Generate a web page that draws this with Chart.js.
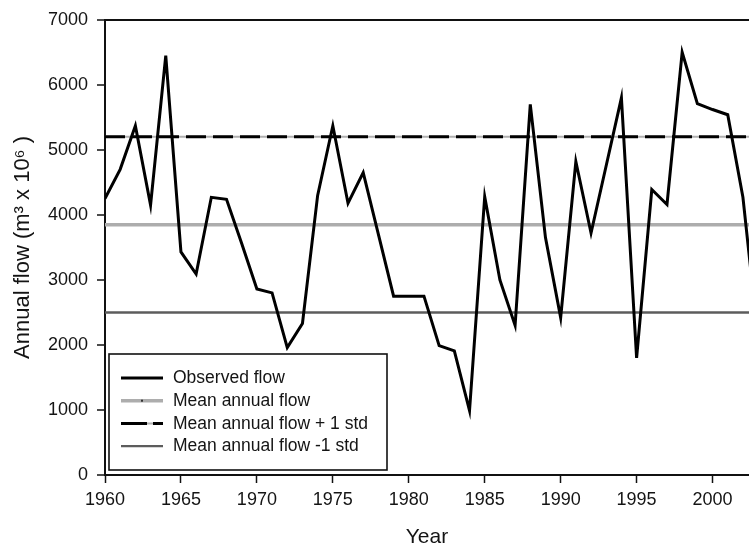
<!DOCTYPE html>
<html>
<head>
<meta charset="utf-8">
<title>Annual flow</title>
<script src="https://cdn.jsdelivr.net/npm/chart.js@4.4.1/dist/chart.umd.min.js"></script>
<style>
  html, body { margin: 0; padding: 0; background: #fff; }
  #wrap { width: 749px; height: 548px; }
</style>
</head>
<body>
<div id="wrap"><canvas id="flow-chart" width="749" height="548"></canvas></div>
<script>
// Annual series, 1960-2003
const years = [1960, 1961, 1962, 1963, 1964, 1965, 1966, 1967, 1968, 1969,
               1970, 1971, 1972, 1973, 1974, 1975, 1976, 1977, 1978, 1979,
               1980, 1981, 1982, 1983, 1984, 1985, 1986, 1987, 1988, 1989,
               1990, 1991, 1992, 1993, 1994, 1995, 1996, 1997, 1998, 1999,
               2000, 2001, 2002, 2003];
const observedFlow = [4250, 4700, 5370, 4150, 6450, 3430, 3090, 4270, 4240, 3560,
                      2860, 2800, 1960, 2330, 4300, 5370, 4180, 4650, 3700, 2750,
                      2750, 2750, 1990, 1910, 990, 4280, 3000, 2300, 5700, 3650,
                      2420, 4820, 3720, 4760, 5800, 1800, 4390, 4160, 6500, 5710,
                      5620, 5540, 4270, 2100];

// mean and +/- one standard deviation
const meanFlow = 3850;
const upperFlow = 5200;
const lowerFlow = 2500;

const xTicks = [1960, 1965, 1970, 1975, 1980, 1985, 1990, 1995, 2000];
const yTicks = [0, 1000, 2000, 3000, 4000, 5000, 6000, 7000];

const legendLabels = ['Observed flow', 'Mean annual flow', 'Mean annual flow + 1 std', 'Mean annual flow -1 std'];

const FONT = '"Liberation Sans", Arial, sans-serif';
const INK = '#141414';

function series(values) {
  return years.map(function(y, i) { return { x: y, y: values[i] }; });
}
function level(v) {
  return years.map(function(y) { return { x: y, y: v }; });
}

// legend drawn inside the plot, lower left corner
const legendBox = {
  id: 'legendBox',
  afterDraw: function(chart) {
    const ctx = chart.ctx;
    const area = chart.chartArea;
    const x = area.left + 4, y = area.bottom - 121, w = 278, h = 116;
    ctx.save();
    ctx.fillStyle = '#fff';
    ctx.fillRect(x, y, w, h);
    ctx.lineWidth = 1.6;
    ctx.strokeStyle = '#111';
    ctx.strokeRect(x, y, w, h);
    ctx.font = '17.5px ' + FONT;
    ctx.textBaseline = 'middle';
    legendLabels.forEach(function(text, i) {
      const ds = chart.data.datasets[i];
      const cy = y + 24 + i * 22.7;
      const x0 = x + 12, x1 = x + 54;
      if (i === 2) {
        // grey showing through the gaps of the dashes
        const under = chart.data.datasets[4];
        ctx.setLineDash([]);
        ctx.strokeStyle = under.borderColor;
        ctx.lineWidth = under.borderWidth;
        ctx.beginPath(); ctx.moveTo(x0, cy); ctx.lineTo(x1, cy); ctx.stroke();
      }
      ctx.setLineDash(i === 2 ? [26, 6] : []);
      ctx.strokeStyle = ds.borderColor;
      ctx.lineWidth = ds.borderWidth;
      ctx.beginPath(); ctx.moveTo(x0, cy); ctx.lineTo(x1, cy); ctx.stroke();
      if (i === 1) {
        ctx.fillStyle = '#333';
        ctx.fillRect((x0 + x1) / 2 - 1, cy - 1, 2, 2);
      }
      ctx.setLineDash([]);
      ctx.fillStyle = INK;
      ctx.fillText(text, x + 64, cy + 0.5);
    });
    ctx.restore();
  }
};

const ctx = document.getElementById('flow-chart');

new Chart(ctx, {
  type: 'line',
  data: {
    datasets: [
      {
        label: legendLabels[0],
        data: series(observedFlow),
        borderColor: '#000',
        borderWidth: 3,
        pointRadius: 0,
        tension: 0
      },
      {
        label: legendLabels[1],
        data: level(meanFlow),
        borderColor: '#adadad',
        borderWidth: 3.5,
        pointRadius: 0
      },
      {
        label: legendLabels[2],
        data: level(upperFlow),
        borderColor: '#000',
        borderWidth: 3,
        borderDash: [20, 7],
        pointRadius: 0
      },
      {
        label: legendLabels[3],
        data: level(lowerFlow),
        borderColor: '#5c5c5c',
        borderWidth: 2.4,
        pointRadius: 0
      },
      {
        label: 'gap',
        data: level(upperFlow),
        borderColor: '#b0b0b0',
        borderWidth: 2,
        pointRadius: 0
      }
    ]
  },
  options: {
    responsive: false,
    animation: false,
    devicePixelRatio: 1,
    layout: { padding: { top: 18, right: 0, bottom: 0, left: 0 } },
    plugins: {
      legend: { display: false },
      tooltip: { enabled: false }
    },
    scales: {
      x: {
        type: 'linear',
        min: 1960,
        max: 2002.4,
        afterBuildTicks: function(scale) {
          scale.ticks = xTicks.map(function(v) { return { value: v }; });
        },
        afterFit: function(scale) { scale.height = 73; },
        ticks: {
          autoSkip: false,
          maxRotation: 0,
          padding: 6,
          color: INK,
          font: { family: FONT, size: 18 },
          callback: function(v) { return String(v); }
        },
        grid: {
          drawOnChartArea: false,
          tickLength: 8,
          tickWidth: 1.5,
          tickColor: '#111'
        },
        border: { color: '#111', width: 2 },
        title: {
          display: true,
          text: 'Year',
          color: INK,
          font: { family: FONT, size: 21, lineHeight: 1 },
          padding: { top: 0, bottom: 0.5 }
        }
      },
      y: {
        min: 0,
        max: 7000,
        afterBuildTicks: function(scale) {
          scale.ticks = yTicks.map(function(v) { return { value: v }; });
        },
        afterFit: function(scale) { scale.width = 105; },
        ticks: {
          padding: 9,
          color: INK,
          font: { family: FONT, size: 18 },
          callback: function(v) { return String(v); }
        },
        grid: {
          // only the top edge of the frame is drawn across the plot
          color: function(c) { return c.tick && c.tick.value === 7000 ? '#111' : 'rgba(0,0,0,0)'; },
          lineWidth: 2,
          tickLength: 8,
          tickWidth: 1.5,
          tickColor: '#111'
        },
        border: { color: '#111', width: 2 },
        title: {
          display: true,
          text: 'Annual flow (m³ x 10⁶ )',
          color: INK,
          font: { family: FONT, size: 22, lineHeight: 1 },
          padding: { top: 12, bottom: 0 }
        }
      }
    }
  },
  plugins: [legendBox]
});
</script>
</body>
</html>
